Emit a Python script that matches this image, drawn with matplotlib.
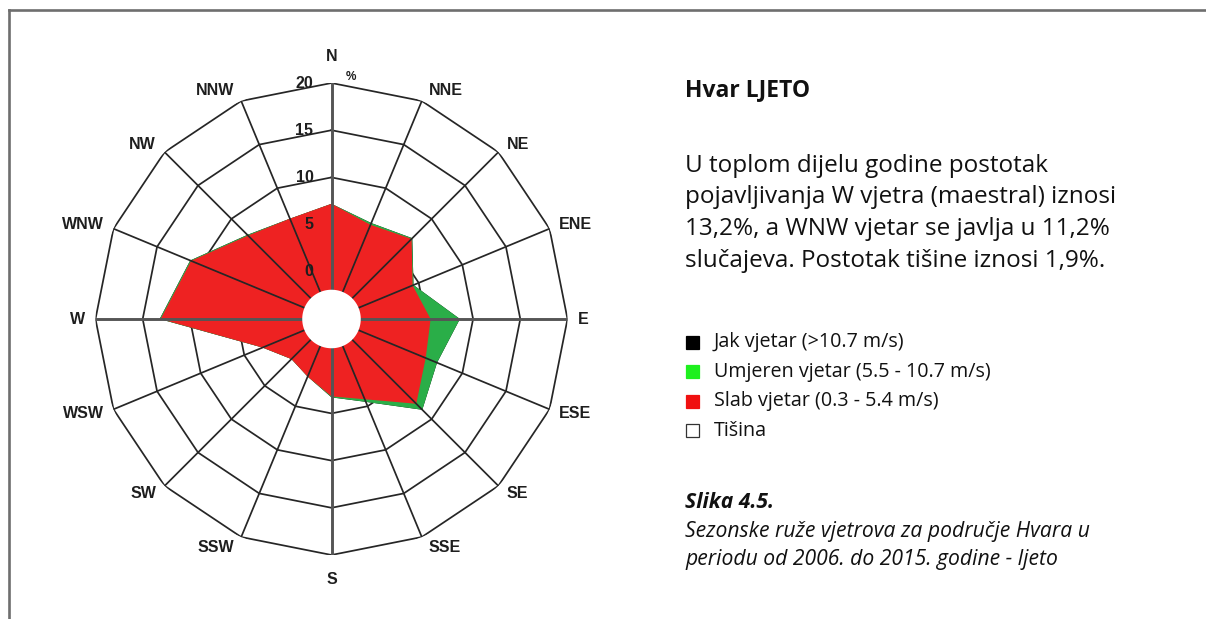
import numpy as np
import matplotlib
matplotlib.use('Agg')
import matplotlib.pyplot as plt
from matplotlib.lines import Line2D
from matplotlib.patches import Rectangle

# Wind rose data, Hvar, summer (%)
directions = ['N', 'NNE', 'NE', 'ENE', 'E', 'ESE', 'SE', 'SSE',
              'S', 'SSW', 'SW', 'WSW', 'W', 'WNW', 'NW', 'NNW']
slab     = [7.2, 5.8, 7.0, 4.3, 5.5, 5.8, 7.7, 4.2, 3.2, 1.6, 1.0, 2.9, 13.1, 11.1, 7.5, 6.5]
umjeren  = [0.0, 0.2, 0.1, 0.1, 3.1, 1.3, 0.9, 0.3, 0.1, 0.0, 0.0, 0.0, 0.1, 0.1, 0.1, 0.0]
jak      = [0.0] * 16
tisina   = 1.9
rings    = [0, 5, 10, 15, 20]

legend_labels = ['Jak vjetar (>10.7 m/s)', 'Umjeren vjetar (5.5 - 10.7 m/s)',
                 'Slab vjetar (0.3 - 5.4 m/s)', 'Tišina']
legend_colors = ['#000000', '#1ef01e', '#f01010', '#ffffff']

W, H = 1206, 619
fig = plt.figure(figsize=(W / 100, H / 100), dpi=100)

def fx(x):
    return x / W

def fy(y):
    return 1 - y / H

# frame (top and left edges only)
fig.add_artist(Line2D([fx(8.5), 1.0], [fy(9.5), fy(9.5)], color='#6e6e6e', lw=1.9))
fig.add_artist(Line2D([fx(8.5), fx(8.5)], [fy(9.5), 0.0], color='#6e6e6e', lw=1.9))

# rose axes
cx, cy, R = 331.5, 319, 236
ax = fig.add_axes([fx(cx - R), fy(cy + R), 2 * R / W, 2 * R / H], projection='polar')
ax.set_theta_zero_location('N')
ax.set_theta_direction(-1)
ax.set_ylim(-5, 20)
ax.grid(False)
ax.set_xticks([])
ax.set_yticks([])
ax.spines['polar'].set_visible(False)
ax.patch.set_alpha(0)

theta = np.deg2rad(np.arange(16) * 22.5)
th_closed = np.append(theta, theta[0])

def closed(v):
    return np.append(v, v[0])

slab_a = np.array(slab)
mod_a = slab_a + np.array(umjeren)
strong_a = mod_a + np.array(jak)

# polygonal rings under the fill
for r in rings:
    ax.plot(th_closed, [r] * 17, color='#262626', lw=1.25, zorder=1)

ax.fill(th_closed, closed(strong_a), color='#000000', lw=0, zorder=2)
ax.fill(th_closed, closed(mod_a), color='#2aae48', lw=0, zorder=3)
ax.fill(th_closed, closed(slab_a), color='#ee2222', lw=0, zorder=4)

# spokes
for i, t in enumerate(theta):
    if i % 4 == 0:
        ax.plot([t, t], [-tisina, 20], color='#555555', lw=2.1, zorder=5)
    else:
        ax.plot([t, t], [-tisina, 20], color='#262626', lw=1.25, zorder=5)

# calm circle
circ = np.linspace(0, 2 * np.pi, 200)
ax.fill(circ, np.full_like(circ, -tisina), color='white', lw=0, zorder=6)

lab_kw = dict(textcoords='offset points', fontsize=11.5, fontweight='bold',
              family='Liberation Sans', color='#1e1e1e', annotation_clip=False,
              zorder=8)

# radial scale labels along N axis
for r in rings:
    ax.annotate(str(r), xy=(0, r), xytext=(-13, 0), ha='right', va='center', **lab_kw)
ax.annotate('%', xy=(0, 20), xytext=(14, 4), ha='center', va='center',
            textcoords='offset points', fontsize=8.5, fontweight='bold',
            family='Liberation Sans', color='#1e1e1e', annotation_clip=False)

# direction labels
for name, t in zip(directions, theta):
    s, c = np.sin(t), np.cos(t)
    if abs(s) < 1e-6:
        off = (0, 14 if c > 0 else -12)
        va = 'bottom' if c > 0 else 'top'
        ax.annotate(name, xy=(t, 20), xytext=off, ha='center', va=va, **lab_kw)
    else:
        gap = (5 + 5 * abs(s)) * 0.72
        dy = 11 * c * 0.72
        ha = 'left' if s > 0 else 'right'
        ax.annotate(name, xy=(t, 20), xytext=(gap if s > 0 else -gap, dy),
                    ha=ha, va='center', **lab_kw)

# right-hand text
tf = 'Open Sans'
fig.text(fx(685), fy(96.5), 'Hvar LJETO', family=tf, fontweight='bold',
         fontsize=16.5, color='#111111', va='baseline')
body = ['U toplom dijelu godine postotak',
        'pojavljivanja W vjetra (maestral) iznosi',
        '13,2%, a WNW vjetar se javlja u 11,2%',
        'slučajeva. Postotak tišine iznosi 1,9%.']
for i, line in enumerate(body):
    fig.text(fx(685), fy(171.5 + i * 31.7), line, family=tf, fontsize=17.5,
             color='#111111', va='baseline')

for i, (lab, col) in enumerate(zip(legend_labels, legend_colors)):
    yc = 342 + i * 29.6
    fig.add_artist(Rectangle((fx(686), fy(yc + 6.5)), 13 / W, 13 / H,
                             facecolor=col, edgecolor='#333333' if i == 3 else col,
                             lw=0.9))
    fig.text(fx(714), fy(yc), lab, family=tf, fontsize=14.2, color='#111111',
             va='center')

fig.text(fx(685), fy(508), 'Slika 4.5.', family=tf, fontsize=15.2,
         fontweight='bold', style='italic', color='#111111', va='baseline')
fig.text(fx(685), fy(536.5), 'Sezonske ruže vjetrova za područje Hvara u',
         family=tf, fontsize=15.2, style='italic', color='#111111', va='baseline')
fig.text(fx(685), fy(565.5), 'periodu od 2006. do 2015. godine - ljeto',
         family=tf, fontsize=15.2, style='italic', color='#111111', va='baseline')

fig.savefig('out.png', dpi=100)
